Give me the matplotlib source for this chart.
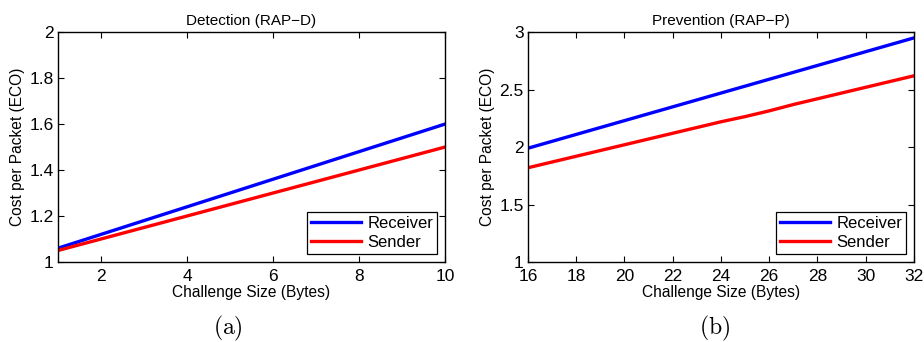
import matplotlib
matplotlib.use("Agg")
import matplotlib.pyplot as plt

plt.rcParams["font.family"] = ["Liberation Sans", "DejaVu Sans"]
plt.rcParams["mathtext.fontset"] = "cm"

# (a) detection
size_d = [1, 2, 3, 4, 5, 6, 7, 8, 9, 10]
recv_d = [1.06, 1.12, 1.18, 1.24, 1.30, 1.36, 1.42, 1.48, 1.54, 1.60]
send_d = [1.05, 1.10, 1.15, 1.20, 1.25, 1.30, 1.35, 1.40, 1.45, 1.50]

# (b) prevention
size_p = list(range(16, 33))
recv_p = [1.99, 2.05, 2.11, 2.17, 2.23, 2.29, 2.35, 2.41, 2.47,
          2.53, 2.59, 2.65, 2.71, 2.77, 2.83, 2.89, 2.95]
send_p = [1.82, 1.87, 1.92, 1.97, 2.02, 2.07, 2.12, 2.17, 2.22,
          2.265, 2.315, 2.37, 2.42, 2.47, 2.52, 2.57, 2.62]

fig = plt.figure(figsize=(9.24, 3.42), dpi=100)
ax1 = fig.add_axes([0.0628, 0.234, 0.4188, 0.672])
ax2 = fig.add_axes([0.5714, 0.234, 0.4177, 0.672])


def style(ax, title, xlim, xticks, ylim, yticks):
    ax.set_xlim(*xlim)
    ax.set_ylim(*ylim)
    ax.set_xticks(xticks)
    ax.set_yticks(yticks)
    ax.set_yticklabels([f"{t:g}" for t in yticks])
    ax.tick_params(direction="in", top=True, right=True, length=4,
                   width=0.8, labelsize=12.5, pad=3)
    ax.tick_params(axis="x", pad=5)
    for s in ax.spines.values():
        s.set_linewidth(1.0)
    ax.set_title(title, fontsize=11, pad=5)
    ax.set_xlabel("Challenge Size (Bytes)", fontsize=11.2, labelpad=1)
    ax.set_ylabel("Cost per Packet (ECO)", fontsize=11.2, labelpad=3)
    leg = ax.legend(loc="lower right", fontsize=12, fancybox=False,
                    edgecolor="black", framealpha=1, handlelength=3.0,
                    handletextpad=0.4, borderaxespad=0.45, borderpad=0.25,
                    labelspacing=0.25)
    leg.get_frame().set_linewidth(0.9)


ax1.plot(size_d, recv_d, color="#0000ff", lw=2.4, label="Receiver")
ax1.plot(size_d, send_d, color="#ff0000", lw=2.4, label="Sender")
style(ax1, "Detection (RAP\u2212D)", (1, 10), [2, 4, 6, 8, 10],
      (1, 2), [1, 1.2, 1.4, 1.6, 1.8, 2])

ax2.plot(size_p, recv_p, color="#0000ff", lw=2.4, label="Receiver")
ax2.plot(size_p, send_p, color="#ff0000", lw=2.4, label="Sender")
style(ax2, "Prevention (RAP\u2212P)", (16, 32), list(range(16, 33, 2)),
      (1, 3), [1, 1.5, 2, 2.5, 3])

fig.text(0.247, 0.04, r"$\mathrm{(a)}$", fontsize=17, ha="center", va="center")
fig.text(0.773, 0.04, r"$\mathrm{(b)}$", fontsize=17, ha="center", va="center")

fig.savefig("out.png", dpi=100)
